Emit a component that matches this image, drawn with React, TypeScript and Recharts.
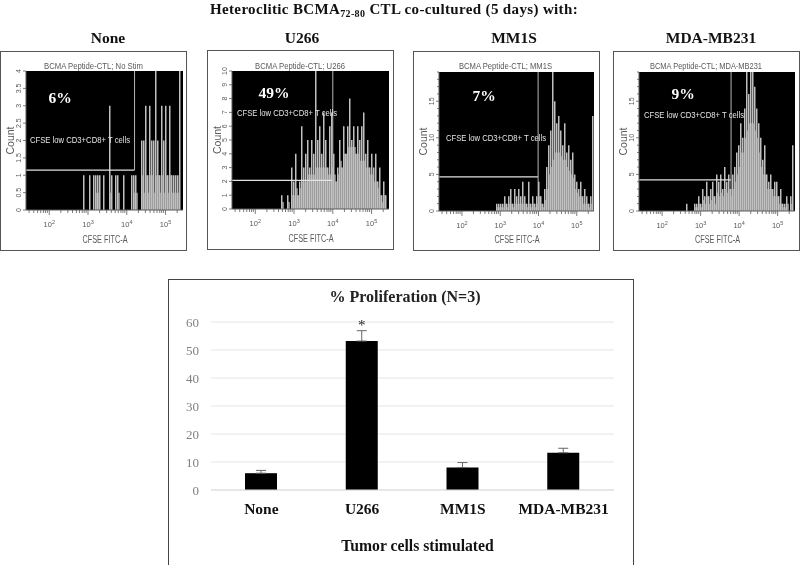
import React from "react";
import {
  Area, Bar, BarChart, CartesianGrid, ComposedChart, ErrorBar, LabelList,
  ReferenceLine, XAxis, YAxis,
} from "recharts";

// ---------- bar chart data ----------
const stimCategories = ["None", "U266", "MM1S", "MDA-MB231"];
const proliferation = [6, 53.2, 8, 13.3];
const proliferationErr = [1, 3.7, 1.8, 1.6];
const significance = ["", "*", "", ""];
const proliferationTicks = [0, 10, 20, 30, 40, 50, 60];

// ---------- histogram data (2px bins along the CFSE axis) ----------
const countsNone = [
  0,0,0,0,0,0,0,0,0,0,0,0,0,0,0,0,0,0,0,0,0,0,0,0,0,0,0,0,0,
  1,0,0,1,0,1,1,1,1,0,1,0,0,3,1,0,1,1,0,0,1,0,0,0,1,1,1,0,0,
  2,2,3,1,3,2,2,4,2,1,3,2,3,1,3,1,1,1,1,4,
];
const bodyNone = [
  0,0,0,0,0,0,0,0,0,0,0,0,0,0,0,0,0,0,0,0,0,0,0,0,0,0,0,0,0,
  0,0,0,0,0,0,0.5,0.5,0,0,0,0,0,0.5,0,0,0,0.5,0,0,0,0,0,0,0,0.5,0.5,0,0,
  1,0.5,1,0.5,1,1,0.5,1,1,0.5,1,0.5,1,0.5,1,0.5,0.5,0.5,0.5,1,
];
const countsU266 = [
  0,0,0,0,0,0,0,0,0,0,0,0,0,0,0,0,0,0,0,0,0,0,0,0,0,
  1,0,0,1,0,3,2,4,1,2,6,3,4,5,3,5,4,10,5,6,4,7,5,3,6,7,4,2,3,5,3,
  6,4,6,8,5,6,4,6,5,6,7,4,5,3,4,3,4,2,3,1,2,1,
];
const bodyU266 = [
  0,0,0,0,0,0,0,0,0,0,0,0,0,0,0,0,0,0,0,0,0,0,0,0,0,
  0.5,0,0,0.5,0,1,1,1.5,1,1.5,2,2,2,2.5,2.5,2.5,2.5,3,3,3,3,3,3,2.5,2.5,3,2.5,2,2.5,3.5,3,
  4,4,4.5,4.5,4.5,4.5,4,4,3.5,3.5,3.5,3,3,2.5,2.5,2,2,1.5,1,0.5,1,0.5,
];
const countsMM1S = [
  0,0,0,0,0,0,0,0,0,0,0,0,0,0,0,0,0,0,0,0,0,0,0,0,0,0,0,0,0,
  1,1,1,1,2,1,2,3,1,3,2,3,2,4,2,1,4,1,2,1,2,4,2,1,3,6,9,11,19,15,12,13,11,
  9,12,8,9,7,8,5,4,3,4,2,3,2,1,2,13,
];
const bodyMM1S = [
  0,0,0,0,0,0,0,0,0,0,0,0,0,0,0,0,0,0,0,0,0,0,0,0,0,0,0,0,0,
  0.5,0.5,0.5,0.5,1,0.5,1,1,0.5,1,1,1,1,1,1,0.5,1,0.5,1,0.5,1,2,1,0.5,1.5,3,5,6,7,8,8,8,7.5,
  7,7,6,5.5,5,4.5,3,2.5,2,2,1,1,1,0.5,1,1,
];
const countsMDA = [
  0,0,0,0,0,0,0,0,0,0,0,0,0,0,0,0,0,0,0,0,0,0,0,0,
  1,0,0,0,1,1,2,1,3,2,4,2,3,4,2,5,4,5,3,6,4,5,3,5,6,8,9,12,10,14,19,16,19,19,17,14,12,10,
  7,9,5,4,5,3,4,4,2,3,1,1,2,0,2,9,
];
const bodyMDA = [
  0,0,0,0,0,0,0,0,0,0,0,0,0,0,0,0,0,0,0,0,0,0,0,0,
  0,0,0,0,0.5,0.5,1,0.5,1.5,1,2,1,1.5,2,1,2.5,2,2.5,2,3,2.5,3,2,3,4,5,6,8,8,10,11,12,12,12,11,10,8,6,
  5,5,3,3,3,2,2,2,1,1,0.5,0.5,1,0,1,1,
];

// ---------- axis tick values ----------
const decades = [2, 3, 4, 5];
const cfseTicks = [
  1.48,1.6,1.7,1.78,1.85,1.9,1.95,2,2.3,2.48,2.6,2.7,2.78,2.85,2.9,2.95,
  3,3.3,3.48,3.6,3.7,3.78,3.85,3.9,3.95,4,4.3,4.48,4.6,4.7,4.78,4.85,4.9,4.95,5,5.3,
];
const countTicksHalf = [0, 0.5, 1, 1.5, 2, 2.5, 3, 3.5, 4];
const countTicksTen = [0, 1, 2, 3, 4, 5, 6, 7, 8, 9, 10];
const countTicksDense = [0, 1, 2, 3, 4, 5, 6, 7, 8, 9, 10, 11, 12, 13, 14, 15, 16, 17, 18, 19];
const countLabelsDense = [0, 5, 10, 15];

// ---------- panel definitions ----------
const panels = [
  {
    head: "None", title: "BCMA Peptide-CTL;  No Stim", pct: "6%",
    counts: countsNone, body: bodyNone, yMax: 4, yTicks: countTicksHalf, yLabels: countTicksHalf,
    gateX: 4.2, gateY: 1.15, gateBottom: 1.15,
    frame: [0, 51, 186, 199], plot: [26, 71, 157, 139],
    headX: 108, titleX: [44, 99], pctPos: [60, 103], cfse: [30, 143],
  },
  {
    head: "U266", title: "BCMA Peptide-CTL;  U266", pct: "49%",
    counts: countsU266, body: bodyU266, yMax: 10, yTicks: countTicksTen, yLabels: countTicksTen,
    gateX: 4.0, gateY: 2.07, gateBottom: 0,
    frame: [207, 50, 186, 199], plot: [232, 71, 157, 138],
    headX: 302, titleX: [255, 90], pctPos: [274, 98], cfse: [237, 116],
  },
  {
    head: "MM1S", title: "BCMA Peptide-CTL;  MM1S", pct: "7%",
    counts: countsMM1S, body: bodyMM1S, yMax: 19, yTicks: countTicksDense, yLabels: countLabelsDense,
    gateX: 3.99, gateY: 4.66, gateBottom: 0,
    frame: [413, 51, 186, 199], plot: [439, 72, 155, 139],
    headX: 514, titleX: [459, 93], pctPos: [484, 101], cfse: [446, 141],
  },
  {
    head: "MDA-MB231", title: "BCMA Peptide-CTL;  MDA-MB231", pct: "9%",
    counts: countsMDA, body: bodyMDA, yMax: 19, yTicks: countTicksDense, yLabels: countLabelsDense,
    gateX: 3.79, gateY: 4.25, gateBottom: 0,
    frame: [613, 51, 186, 199], plot: [639, 72, 156, 139],
    headX: 711, titleX: [650, 112], pctPos: [683, 99], cfse: [644, 118],
  },
];

const SANS = "'Liberation Sans', Arial, sans-serif";
const SERIF = "'Liberation Serif', 'Times New Roman', serif";
const INK = "#5a5a5a";
const X_MIN = 1.4;
const X_MAX = 5.45;

const CfseTick = (props: any) => {
  const { x, y, payload } = props;
  const major = decades.includes(payload.value);
  return (
    <g>
      <line x1={x} x2={x} y1={y} y2={y + (major ? 5 : 3)} stroke={INK} strokeWidth={0.8} />
      {major && (
        <text x={x} y={y + 17} textAnchor="middle" fontFamily={SANS} fontSize={7.5} fill={INK}>
          10
          <tspan dy={-3} fontSize={5.5}>{payload.value}</tspan>
        </text>
      )}
    </g>
  );
};

const countTick = (labels: number[]) => (props: any) => {
  const { x, y, payload } = props;
  const major = labels.includes(payload.value);
  const lx = x - 5;
  return (
    <g>
      <line x1={x - (major ? 3 : 2)} x2={x} y1={y} y2={y} stroke={INK} strokeWidth={0.8} />
      {major && (
        <text x={lx} y={y} transform={`rotate(-90 ${lx} ${y})`} textAnchor="middle"
          fontFamily={SANS} fontSize={7} fill={INK}>
          {payload.value}
        </text>
      )}
    </g>
  );
};

function Histogram({ p }: { p: (typeof panels)[number] }) {
  const [fx, fy, fw, fh] = p.frame;
  const [px, py, pw, ph] = p.plot;
  const binStep = ((X_MAX - X_MIN) * 2) / pw;
  const rows = p.counts.map((c, i) => ({
    x: X_MIN + binStep * i,
    count: c,
    body: p.body[i],
  }));
  const cy = py - fy + ph / 2;
  const cx = px - fx + pw / 2;
  return (
    <div style={{ position: "absolute", left: fx, top: fy }}>
      <ComposedChart
        width={fw}
        height={fh}
        data={rows}
        margin={{ top: py - fy, right: fx + fw - px - pw, bottom: 0, left: 0 }}
      >
        <CartesianGrid fill="#000" fillOpacity={1} stroke="none" horizontal={false} vertical={false} />
        <XAxis
          dataKey="x" type="number" domain={[X_MIN, X_MAX]} allowDataOverflow
          ticks={cfseTicks} interval={0} tick={CfseTick} tickLine={false} tickSize={0} tickMargin={0}
          axisLine={{ stroke: INK }} height={fy + fh - py - ph}
          label={{
            content: () => (
              <text x={cx - 22} y={fh - 7} textLength={45} lengthAdjust="spacingAndGlyphs" fontFamily={SANS} fontSize={10} fill={INK}>
                CFSE FITC-A
              </text>
            ),
          }}
        />
        <YAxis
          type="number" domain={[0, p.yMax]} allowDataOverflow width={px - fx}
          ticks={p.yTicks} interval={0} tick={countTick(p.yLabels)} tickLine={false} tickSize={0} tickMargin={0}
          axisLine={{ stroke: INK }}
          label={{
            content: () => (
              <text x={14} y={cy} transform={`rotate(-90 14 ${cy})`} textAnchor="middle" fontFamily={SANS} fontSize={10.5} fill={INK}>
                Count
              </text>
            ),
          }}
        />
        <Bar dataKey="count" barSize={1.5} fill="#c0c0c0" isAnimationActive={false} />
        <Area dataKey="body" type="stepAfter" fill="#7d7d7d" fillOpacity={1} stroke="none" isAnimationActive={false} dot={false} activeDot={false} />
        <ReferenceLine segment={[{ x: X_MIN, y: p.gateY }, { x: p.gateX, y: p.gateY }]} stroke="#e2e2e2" strokeWidth={1.2} />
        <ReferenceLine segment={[{ x: p.gateX, y: p.gateBottom }, { x: p.gateX, y: p.yMax }]} stroke="#b5b5b5" strokeWidth={1} />
      </ComposedChart>
    </div>
  );
}

export default function App() {
  const barRows = stimCategories.map((name, i) => ({
    name,
    value: proliferation[i],
    err: [0, proliferationErr[i]],
    mark: significance[i],
  }));
  return (
    <div style={{ position: "absolute", left: 0, top: 0, width: 800, height: 565, background: "#fff", overflow: "hidden", filter: "blur(0.45px)" }}>
      {/* histogram frames */}
      {panels.map((p) => (
        <div key={p.head} style={{ position: "absolute", left: p.frame[0], top: p.frame[1], width: p.frame[2] - 1, height: p.frame[3] - 1, border: "1px solid #555" }} />
      ))}
      {panels.map((p) => (
        <Histogram key={p.head} p={p} />
      ))}

      {/* bar chart */}
      <div style={{ position: "absolute", left: 168, top: 279, width: 464, height: 290, border: "1px solid #444" }} />
      <div style={{ position: "absolute", left: 168, top: 279 }}>
        <BarChart
          width={465}
          height={285}
          data={barRows}
          margin={{ top: 43, right: 19, bottom: 0, left: 0 }}
          barCategoryGap={0}
        >
          <CartesianGrid vertical={false} stroke="#e6e6e6" strokeWidth={1.2} />
          <XAxis
            dataKey="name" interval={0} tickLine={false} height={74}
            axisLine={{ stroke: "#dcdcdc" }}
            tick={{ fontFamily: SERIF, fontWeight: 700, fontSize: 15.5, fill: "#111" }}
            tickMargin={7}
            label={{ value: "Tumor cells stimulated", position: "insideBottom", offset: 13, dx: 5, fontFamily: SERIF, fontWeight: 700, fontSize: 15.7, fill: "#111" }}
          />
          <YAxis
            width={43} domain={[0, 60]} ticks={proliferationTicks} interval={0}
            tickLine={false} axisLine={false} tickMargin={6}
            tick={{ fontFamily: SERIF, fontSize: 13, fill: "#808080" }}
          />
          <Bar dataKey="value" barSize={32} fill="#000" isAnimationActive={false}>
            <ErrorBar dataKey="err" width={5} stroke="#666" strokeWidth={1} direction="y" />
            <LabelList dataKey="mark" position="top" offset={11} fontFamily={SERIF} fontSize={15} fill="#222" />
          </Bar>
        </BarChart>
      </div>

      {/* text overlay */}
      <svg width={800} height={565} style={{ position: "absolute", left: 0, top: 0, pointerEvents: "none" }}>
        <text x={394} y={13.5} textAnchor="middle" fontFamily={SERIF} fontWeight={700} fontSize={15} letterSpacing={0.35} fill="#111">
          Heteroclitic BCMA
          <tspan dy={3} fontSize={10}>72-80</tspan>
          <tspan dy={-3}> CTL co-cultured (5 days) with:</tspan>
        </text>
        <text x={405} y={302} textAnchor="middle" fontFamily={SERIF} fontWeight={700} fontSize={16} fill="#222">
          % Proliferation (N=3)
        </text>
        {panels.map((p) => (
          <g key={p.head}>
            <text x={p.headX} y={43} textAnchor="middle" fontFamily={SERIF} fontWeight={700} fontSize={15.5} fill="#111">{p.head}</text>
            <text x={p.titleX[0]} y={69} textLength={p.titleX[1]} lengthAdjust="spacingAndGlyphs" fontFamily={SANS} fontSize={9} fill={INK}>{p.title}</text>
            <text x={p.pctPos[0]} y={p.pctPos[1]} textAnchor="middle" fontFamily={SERIF} fontWeight={700} fontSize={15.5} fill="#fff">{p.pct}</text>
            <text x={p.cfse[0]} y={p.cfse[1]} textLength={100} lengthAdjust="spacingAndGlyphs" fontFamily={SANS} fontSize={9} fill="#e4e4e4">CFSE low CD3+CD8+ T cells</text>
          </g>
        ))}
      </svg>
    </div>
  );
}
